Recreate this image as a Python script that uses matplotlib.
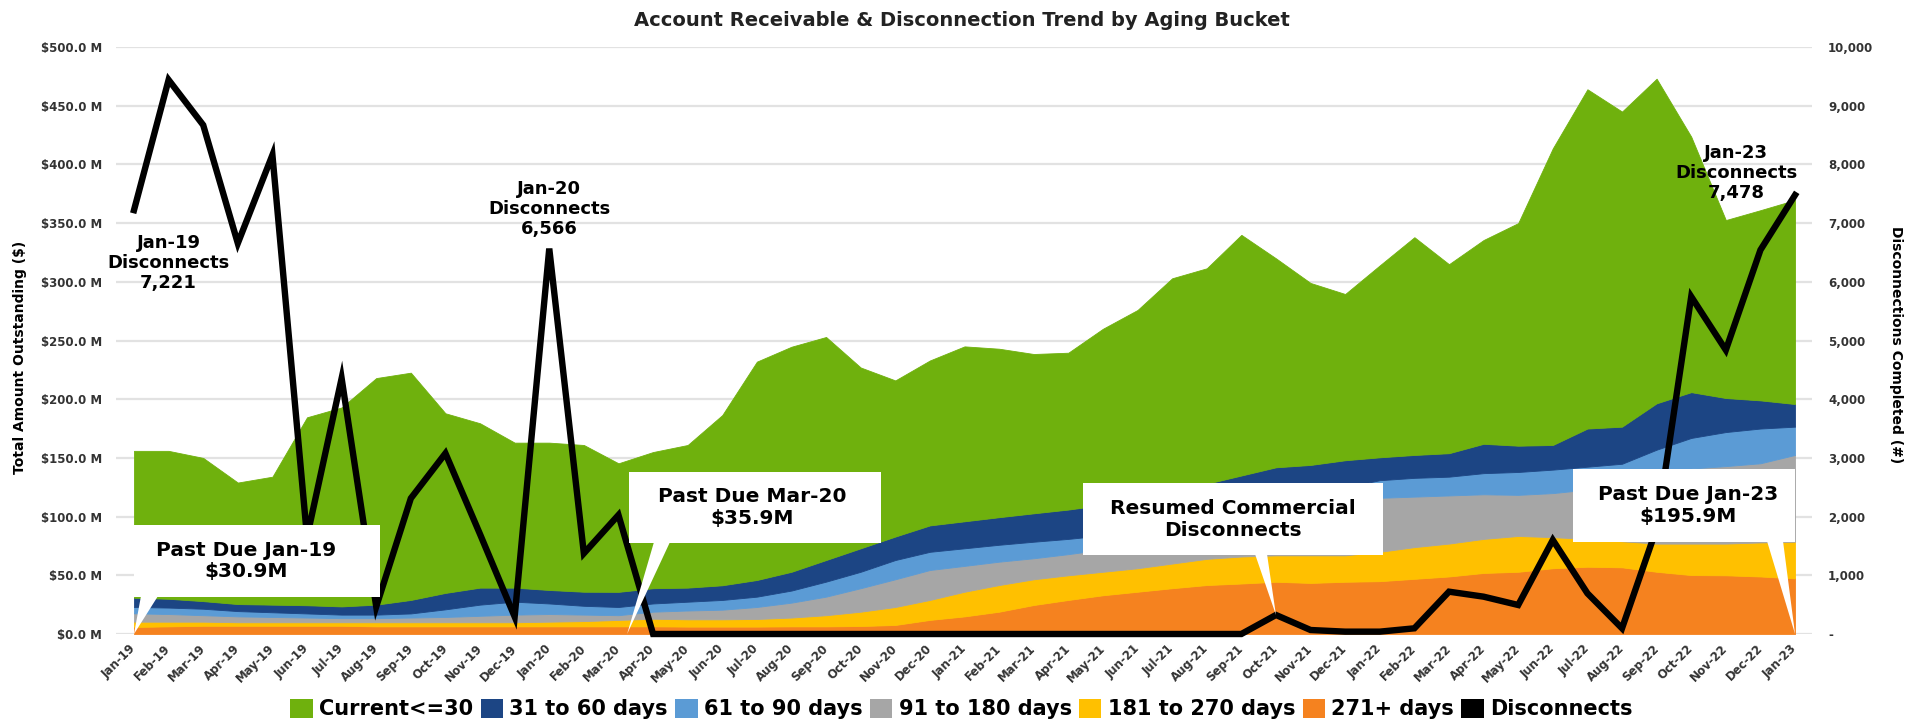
import matplotlib
matplotlib.use("Agg")
import matplotlib.pyplot as plt
from matplotlib.patches import Polygon, Patch, Rectangle
import numpy as np

months = ["Jan-19", "Feb-19", "Mar-19", "Apr-19", "May-19", "Jun-19", "Jul-19", "Aug-19",
          "Sep-19", "Oct-19", "Nov-19", "Dec-19", "Jan-20", "Feb-20", "Mar-20", "Apr-20",
          "May-20", "Jun-20", "Jul-20", "Aug-20", "Sep-20", "Oct-20", "Nov-20", "Dec-20",
          "Jan-21", "Feb-21", "Mar-21", "Apr-21", "May-21", "Jun-21", "Jul-21", "Aug-21",
          "Sep-21", "Oct-21", "Nov-21", "Dec-21", "Jan-22", "Feb-22", "Mar-22", "Apr-22",
          "May-22", "Jun-22", "Jul-22", "Aug-22", "Sep-22", "Oct-22", "Nov-22", "Dec-22",
          "Jan-23"]

# Amounts outstanding ($M) by aging bucket
days_271_plus = [6.0, 6.5, 7.0, 7.0, 7.0, 7.0, 7.0, 6.5, 6.5, 6.5, 6.5, 6.5, 6.5, 6.5, 6.5, 6.5,
                 6.3, 6.3, 6.3, 6.5, 6.5, 6.8, 7.7, 12.0, 15.0, 19.0, 24.7, 29.0, 33.0, 36.0, 39.0,
                 41.7, 43.0, 44.5, 43.5, 44.5, 45.0, 47.0, 49.0, 52.0, 53.0, 56.0, 57.3, 56.8, 53.0,
                 50.2, 50.0, 49.0, 47.4]
days_181_270 = [4.5, 4.0, 3.5, 3.0, 3.0, 3.0, 3.0, 3.5, 3.5, 3.5, 3.5, 3.5, 4.0, 4.5, 5.5, 6.5,
                6.2, 6.2, 6.5, 7.5, 9.5, 12.2, 15.3, 17.0, 21.0, 22.7, 21.9, 21.0, 20.0, 20.0, 21.0,
                22.3, 23.0, 22.5, 23.5, 22.5, 25.0, 27.0, 28.0, 29.0, 30.5, 26.5, 23.7, 22.2, 24.0,
                26.8, 27.0, 29.0, 31.2]
days_91_180 = [7.1, 6.5, 5.5, 5.0, 4.5, 4.0, 3.5, 3.5, 4.0, 4.5, 5.5, 6.5, 6.5, 5.5, 4.0, 6.0,
               7.5, 8.2, 10.2, 12.7, 15.8, 20.0, 23.6, 25.5, 22.0, 19.9, 17.9, 18.0, 19.0, 21.0,
               22.0, 24.0, 29.0, 35.0, 40.0, 44.0, 46.0, 43.0, 41.0, 38.0, 35.0, 37.5, 42.0, 46.5,
               56.0, 64.0, 66.0, 67.4, 73.9]
days_61_90 = [5.4, 5.5, 5.5, 4.5, 4.0, 3.5, 3.0, 3.0, 3.5, 6.5, 9.5, 11.0, 9.0, 7.5, 7.0, 7.0,
              7.5, 8.3, 8.8, 10.3, 12.8, 14.0, 16.4, 15.5, 15.0, 14.4, 14.1, 13.0, 12.0, 11.0, 11.0,
              12.0, 13.0, 13.0, 13.0, 14.0, 15.0, 16.0, 16.0, 18.0, 19.5, 20.0, 19.5, 19.5, 24.0,
              26.0, 29.0, 29.6, 24.1]
days_31_60 = [7.9, 7.5, 6.5, 6.0, 6.5, 7.0, 7.0, 8.5, 11.5, 14.0, 14.5, 12.0, 11.5, 12.0, 12.9,
              13.0, 12.0, 12.5, 14.2, 16.0, 18.4, 20.0, 20.0, 22.5, 23.0, 23.5, 24.2, 25.0, 26.0,
              27.0, 28.0, 28.0, 27.0, 27.0, 24.0, 23.0, 19.5, 19.5, 20.0, 25.0, 22.4, 21.0, 32.5,
              31.6, 39.5, 39.0, 29.0, 24.0, 19.3]
current_30 = [125.1, 126.0, 122.0, 103.5, 109.0, 160.1, 169.5, 193.0, 193.6, 153.0, 140.0, 123.5,
              125.5, 125.0, 109.5, 116.0, 121.5, 145.0, 186.0, 191.7, 190.0, 154.0, 133.0, 140.5,
              149.0, 143.5, 135.7, 133.6, 150.0, 161.0, 182.0, 183.5, 205.0, 178.0, 155.0, 141.6,
              163.5, 185.5, 161.0, 173.6, 189.6, 252.7, 289.0, 268.4, 276.5, 217.6, 151.6, 162.0,
              173.8]

# Disconnections completed (#)
disconnects = [7221, 9440, 8670, 6656, 8160, 1650, 4356, 466, 2311, 3078, 1700, 295, 6566, 1374,
               2027, 0, 0, 0, 0, 0, 0, 0, 0, 0, 0, 0, 0, 0, 0, 0, 0, 0, 0, 324, 68, 40, 40, 97,
               721, 636, 494, 1601, 693, 97, 1800, 5747, 4838, 6542, 7478]

series_names = ["Current<=30", "31 to 60 days", "61 to 90 days", "91 to 180 days",
                "181 to 270 days", "271+ days"]
colors = {"Current<=30": "#6fb10d", "31 to 60 days": "#1c4584", "61 to 90 days": "#5b9bd5",
          "91 to 180 days": "#a6a6a6", "181 to 270 days": "#ffc000", "271+ days": "#f5821f"}

W, H = 1923, 724
fig = plt.figure(figsize=(W / 100, H / 100), dpi=100)
fig.patch.set_facecolor("white")


def fx(xp):
    return xp / W


def fy(yp):
    return 1 - yp / H


ax = fig.add_axes([fx(116), fy(634), (1812 - 116) / W, (634 - 47) / H])
x = np.arange(len(months))

stack = [days_271_plus, days_181_270, days_91_180, days_61_90, days_31_60, current_30]
stack_names = ["271+ days", "181 to 270 days", "91 to 180 days", "61 to 90 days",
               "31 to 60 days", "Current<=30"]
ax.stackplot(x, *stack, colors=[colors[n] for n in stack_names], edgecolor="face",
             linewidth=0.6, zorder=2)

ax.set_xlim(-0.52, 48.49)
ax.set_ylim(0, 500)
yt = np.arange(0, 501, 50)
ax.set_yticks(yt)
ax.set_yticklabels([f"${v:.1f} M" for v in yt], fontsize=8.5, fontweight="bold", color="#333333")
ax.yaxis.grid(True, color="#e2e2e2", linewidth=1.6, zorder=0)
ax.set_axisbelow(True)
ax.set_xticks(x)
ax.set_xticklabels(months, rotation=45, ha="right", va="center", rotation_mode="anchor",
                   fontsize=8.5, fontweight="bold", color="#333333")
ax.tick_params(axis="both", length=0)
ax.tick_params(axis="y", pad=10)
ax.tick_params(axis="x", pad=9)
for s in ax.spines.values():
    s.set_visible(False)

ax2 = ax.twinx()
ax2.plot(x, disconnects, color="black", linewidth=4.6, solid_joinstyle="miter",
         clip_on=False, zorder=3)
ax2.set_ylim(0, 10000)
rt = np.arange(0, 10001, 1000)
ax2.set_yticks(rt)
ax2.set_yticklabels(["-" if v == 0 else f"{v:,}" for v in rt], fontsize=8.5,
                    fontweight="bold", color="#333333")
ax2.tick_params(axis="y", length=0, pad=11.5)
for s in ax2.spines.values():
    s.set_visible(False)

fig.text(0.5, fy(20), "Account Receivable & Disconnection Trend by Aging Bucket",
         ha="center", va="center", fontsize=14, fontweight="bold", color="#222222")
fig.text(fx(20), fy(357), "Total Amount Outstanding ($)", rotation=90, ha="center",
         va="center", fontsize=10, fontweight="bold")
fig.text(fx(1896), fy(345), "Disconnections Completed (#)", rotation=270, ha="center",
         va="center", fontsize=10, fontweight="bold")

# disconnect annotations
ann_kw = dict(ha="center", va="center", fontsize=13, fontweight="semibold", color="black",
              linespacing=1.15, zorder=6)
ax2.text(1.0, 6320, "Jan-19\nDisconnects\n7,221", **ann_kw)
ax2.text(12.0, 7240, "Jan-20\nDisconnects\n6,566", **ann_kw)
ax2.text(46.3, 7850, "Jan-23\nDisconnects\n7,478", **ann_kw)

to_fig = fig.transFigure.inverted()


def callout(box, text, text_x, base, tip_data, tip_ax):
    x0, y0, x1, y1 = box
    tip = to_fig.transform(tip_ax.transData.transform(tip_data))
    tail = Polygon([(fx(base[0]), fy(y1 - 1)), (fx(base[1]), fy(y1 - 1)), tuple(tip)],
                   closed=True, transform=fig.transFigure, facecolor="white",
                   edgecolor="none", zorder=7)
    fig.patches.append(tail)
    rect = Rectangle((fx(x0), fy(y1)), (x1 - x0) / W, (y1 - y0) / H,
                     transform=fig.transFigure, facecolor="white", edgecolor="none", zorder=7)
    fig.patches.append(rect)
    fig.text(fx(text_x), fy((y0 + y1) / 2), text, ha="center", va="center", fontsize=14.5,
             fontweight="semibold", color="black", linespacing=1.2, zorder=8)


callout((134, 525, 380, 597), "Past Due Jan-19\n$30.9M", 246, (141, 158), (0, 0), ax)
callout((629, 472, 881, 543), "Past Due Mar-20\n$35.9M", 752, (654, 670), (14.25, 0), ax)
callout((1083, 483, 1383, 555), "Resumed Commercial\nDisconnects", 1233, (1255, 1267),
        (33, disconnects[33]), ax2)
callout((1573, 469, 1795, 542), "Past Due Jan-23\n$195.9M", 1688, (1767, 1783), (48, 0), ax)

handles = [Patch(facecolor=colors[n], edgecolor="none") for n in series_names]
handles.append(Patch(facecolor="black", edgecolor="none"))
labels = series_names + ["Disconnects"]
fig.legend(handles, labels, loc="center", bbox_to_anchor=(0.5, fy(709)), ncol=7,
           frameon=False, prop={"size": 15, "weight": "bold"}, handlelength=1.08,
           handleheight=1.08, handletextpad=0.3, columnspacing=0.35, borderaxespad=0)

fig.savefig("out.png", dpi=100, facecolor="white")
